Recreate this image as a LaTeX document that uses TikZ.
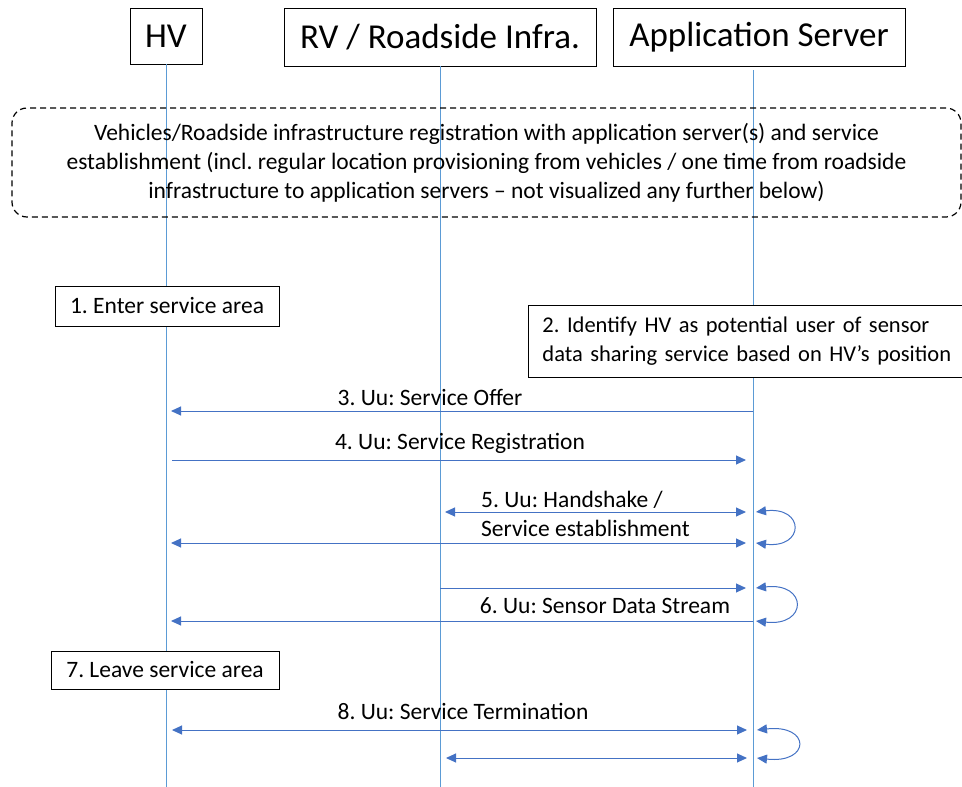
\documentclass[tikz,border=0pt]{standalone}
\usepackage{fontspec}
\setmainfont{Carlito}
\usetikzlibrary{arrows.meta}
\definecolor{msgblue}{RGB}{68,114,196}
\definecolor{lifeblue}{RGB}{91,155,213}
\frenchspacing

\tikzset{
  head/.style={draw,line width=0.9pt,inner sep=0pt,font=\fontsize{35}{40}\selectfont},
  note/.style={draw,line width=0.9pt,inner sep=0pt,font=\fontsize{23.5}{28.8}\selectfont},
  life/.style={draw=lifeblue,line width=0.8pt},
  msg/.style={draw=msgblue,line width=1pt,-{Triangle[length=10pt,width=9pt]}},
  twoway/.style={msg,{Triangle[length=10pt,width=9pt]}-{Triangle[length=10pt,width=9pt]}},
  lbl/.style={font=\fontsize{23.5}{28}\selectfont,inner sep=0pt}
}

\begin{document}
\begin{tikzpicture}[x=1pt,y=1pt,yscale=-1]
\useasboundingbox (0,0) rectangle (962,787);

% lifeline heads
\node[head,minimum width=72pt,minimum height=56pt] (hv) at (166,36) {HV};
\node[head,minimum width=312pt,minimum height=58pt] (rv) at (440,37) {RV / Roadside Infra.};
\node[head,minimum width=292pt,minimum height=58pt] (as) at (759,37) {Application Server};

% lifelines
\coordinate (hvB) at (166,787);
\coordinate (rvB) at (440,787);
\coordinate (asT) at (753,70);
\coordinate (asB) at (753,787);
\draw[life] (hv.south) -- (hvB);
\draw[life] (rv.south) -- (rvB);
\draw[life] (asT) -- (asB);

% registration phase
\node[note,line width=1.2pt,dash pattern=on 6pt off 4pt,rounded corners=15pt,minimum width=949pt,minimum height=109pt,align=center] (reg) at (486.5,162.5)
  {Vehicles/Roadside infrastructure registration with application server(s) and service\\
   establishment (incl. regular location provisioning from vehicles / one time from roadside\\
   infrastructure to application servers -- not visualized any further below)};

% steps 1 and 2
\node[note,fill=white,minimum width=224pt,minimum height=40pt] (s1) at (167,306) {1. Enter service area};
\node[note,fill=white,anchor=west,inner xsep=14pt,text width=470pt,align=left,minimum height=72pt,
  font=\fontsize{22.5}{29}\selectfont] (s2) at (528,341)
  {2. Identify HV as potential user of sensor\\data sharing service based on HV’s position};

% step 3
\coordinate (as3) at (753,411);
\coordinate (hv3) at (171,411);
\draw[msg] (as3) -- (hv3);
\node[lbl] (t3) at (430,397) {3. Uu: Service Offer};

% step 4
\coordinate (hv4) at (172,460);
\coordinate (as4) at (746,460);
\draw[msg] (hv4) -- (as4);
\node[lbl] (t4) at (460,443) {4. Uu: Service Registration};

% step 5
\coordinate (rv5) at (445,512);
\coordinate (as5a) at (746,512);
\coordinate (hv5) at (171,543);
\coordinate (as5b) at (746,543);
\coordinate (lp5a) at (756,512);
\coordinate (lp5b) at (756,543);
\draw[twoway] (rv5) -- (as5a);
\draw[twoway] (hv5) -- (as5b);
\draw[twoway] (lp5a) .. controls (805,506) and (805,549) .. (lp5b);
\node[lbl,anchor=west] (t5a) at (481,500) {5. Uu: Handshake /};
\node[lbl,anchor=west] (t5b) at (481,528) {Service establishment};

% step 6
\coordinate (rv6) at (440,588);
\coordinate (as6a) at (746,588);
\coordinate (as6b) at (753,621);
\coordinate (hv6) at (171,621);
\coordinate (lp6a) at (756,588);
\coordinate (lp6b) at (756,621);
\draw[msg] (rv6) -- (as6a);
\draw[msg] (as6b) -- (hv6);
\draw[twoway] (lp6a) .. controls (808,582) and (808,627) .. (lp6b);
\node[lbl] (t6) at (605,606) {6. Uu: Sensor Data Stream};

% step 7
\node[note,fill=white,minimum width=228pt,minimum height=38pt] (s7) at (165,670) {7. Leave service area};

% step 8
\coordinate (hv8) at (172,730);
\coordinate (as8a) at (747,730);
\coordinate (rv8) at (446,758);
\coordinate (as8b) at (747,758);
\coordinate (lp8a) at (757,730);
\coordinate (lp8b) at (757,758);
\draw[twoway] (hv8) -- (as8a);
\draw[twoway] (rv8) -- (as8b);
\draw[twoway] (lp8a) .. controls (811,724) and (811,764) .. (lp8b);
\node[lbl] (t8) at (463,711) {8. Uu: Service Termination};

\end{tikzpicture}
\end{document}
